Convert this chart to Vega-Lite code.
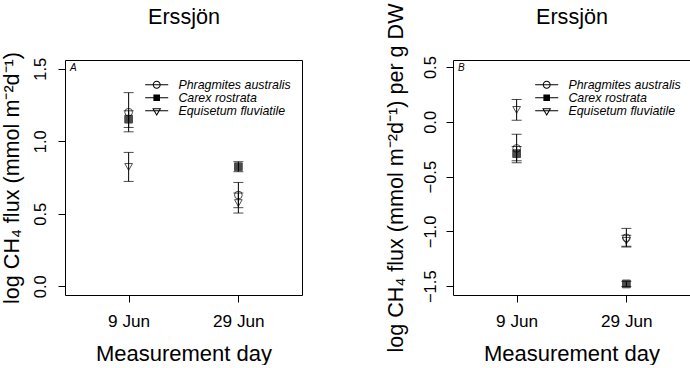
{
  "$schema": "https://vega.github.io/schema/vega-lite/v6.json",
  "background": "white",
  "padding": {"left": 0, "top": 2, "right": 0, "bottom": 0},
  "autosize": {"type": "pad"},
  "config": {
    "font": "Liberation Sans",
    "view": {"stroke": "black", "strokeWidth": 1},
    "axis": {"grid": false, "domain": false, "tickColor": "black", "tickWidth": 1, "labelColor": "black", "titleColor": "black", "titleFontWeight": "normal", "tickSize": 7, "labelFont": "Liberation Sans", "titleFont": "Liberation Sans"},
    "legend": {"title": null, "orient": "none", "padding": 0, "symbolSize": 144, "symbolStrokeWidth": 0, "symbolOpacity": 1, "labelFontSize": 12.4, "labelFontStyle": "italic", "labelOffset": 15.5, "rowPadding": -0.5, "labelLimit": 400, "labelColor": "black", "labelFont": "Liberation Sans"}
  },
  "datasets": {
    "areaFlux": [
      {"species": "Phragmites australis", "day": 9, "mean": 1.2, "lo": 1.065, "hi": 1.335},
      {"species": "Carex rostrata", "day": 9, "mean": 1.152, "lo": 1.095, "hi": 1.21},
      {"species": "Equisetum fluviatile", "day": 9, "mean": 0.823, "lo": 0.723, "hi": 0.923},
      {"species": "Phragmites australis", "day": 29, "mean": 0.629, "lo": 0.542, "hi": 0.716},
      {"species": "Carex rostrata", "day": 29, "mean": 0.824, "lo": 0.79, "hi": 0.859},
      {"species": "Equisetum fluviatile", "day": 29, "mean": 0.574, "lo": 0.505, "hi": 0.643}
    ],
    "massFlux": [
      {"species": "Phragmites australis", "day": 9, "mean": -0.242, "lo": -0.372, "hi": -0.112},
      {"species": "Carex rostrata", "day": 9, "mean": -0.29, "lo": -0.355, "hi": -0.225},
      {"species": "Equisetum fluviatile", "day": 9, "mean": 0.11, "lo": 0.015, "hi": 0.205},
      {"species": "Phragmites australis", "day": 29, "mean": -1.058, "lo": -1.142, "hi": -0.972},
      {"species": "Carex rostrata", "day": 29, "mean": -1.479, "lo": -1.503, "hi": -1.455},
      {"species": "Equisetum fluviatile", "day": 29, "mean": -1.085, "lo": -1.135, "hi": -1.035}
    ]
  },
  "spacing": 151,
  "bounds": "flush",
  "resolve": {"scale": {"shape": "independent", "fill": "independent"}, "legend": {"shape": "independent", "fill": "independent"}},
  "hconcat": [
    {
      "width": 237,
      "height": 235,
      "data": {"name": "areaFlux"},
      "resolve": {"axis": {"x": "independent"}, "scale": {"shape": "independent"}, "legend": {"shape": "independent"}},
      "layer": [
        {
          "mark": {"type": "rule", "color": "black", "strokeWidth": 1},
          "encoding": {
            "x": {"field": "day", "type": "quantitative", "scale": {"domain": [-2.6, 40.6], "nice": false, "zero": false},
              "axis": {"orient": "top", "title": "Erssjön", "labels": false, "ticks": false, "tickSize": 0, "labelPadding": 0, "titleFontSize": 21.6, "titlePadding": 37, "titleBaseline": "alphabetic"}},
            "y": {"field": "lo", "type": "quantitative", "scale": {"domain": [-0.06, 1.56], "nice": false, "zero": false},
              "title": "log CH₄ flux (mmol m⁻²d⁻¹)",
              "axis": {"values": [0, 0.5, 1, 1.5], "format": ".1f", "labelAngle": -90, "labelAlign": "center", "labelBaseline": "alphabetic", "labelPadding": 13, "labelFontSize": 16.5,
                "titleFontSize": 21.6, "titleAngle": -90, "titleAlign": "center", "titleBaseline": "alphabetic", "titleX": -46.5, "titleY": 117.5}},
            "y2": {"field": "hi"}
          }
        },
        {
          "mark": {"type": "tick", "orient": "horizontal", "color": "black", "thickness": 1, "size": 10},
          "encoding": {
            "x": {"field": "day", "type": "quantitative", "axis": null},
            "y": {"field": "lo", "type": "quantitative", "title": "log CH₄ flux (mmol m⁻²d⁻¹)"}
          }
        },
        {
          "mark": {"type": "tick", "orient": "horizontal", "color": "black", "thickness": 1, "size": 10},
          "encoding": {
            "x": {"field": "day", "type": "quantitative", "axis": null},
            "y": {"field": "hi", "type": "quantitative", "title": "log CH₄ flux (mmol m⁻²d⁻¹)"}
          }
        },
        {
          "mark": {"type": "point", "stroke": "black", "strokeWidth": 1, "size": 60},
          "encoding": {
            "x": {"field": "day", "type": "quantitative",
              "axis": {"orient": "bottom", "title": "Measurement day", "values": [9, 29], "labelExpr": "datum.value + ' Jun'", "labelFontSize": 17.2, "labelPadding": 10, "titleFontSize": 22, "titlePadding": 14}},
            "y": {"field": "mean", "type": "quantitative", "title": "log CH₄ flux (mmol m⁻²d⁻¹)"},
            "shape": {"field": "species", "type": "nominal",
              "scale": {"domain": ["Phragmites australis", "Carex rostrata", "Equisetum fluviatile"], "range": ["circle", "square", "triangle-down"]},
              "legend": null},
            "fill": {"field": "species", "type": "nominal",
              "scale": {"domain": ["Phragmites australis", "Carex rostrata", "Equisetum fluviatile"], "range": ["transparent", "black", "transparent"]},
              "legend": null}
          }
        },
        {
          "mark": {"type": "point", "filled": true, "color": "black", "size": 0},
          "encoding": {
            "x": {"field": "day", "type": "quantitative", "axis": null},
            "y": {"field": "mean", "type": "quantitative", "title": "log CH₄ flux (mmol m⁻²d⁻¹)"},
            "shape": {"field": "species", "type": "nominal",
              "scale": {"domain": ["Phragmites australis", "Carex rostrata", "Equisetum fluviatile"],
                "range": [
                  "M-1.92,-0.083H1.92V0.083H-1.92Z M-0.667,0A0.667,0.667,0,1,1,0.667,0A0.667,0.667,0,1,1,-0.667,0Z M-0.5,0A0.5,0.5,0,1,0,0.5,0A0.5,0.5,0,1,0,-0.5,0Z",
                  "M-1.92,-0.083H1.92V0.083H-1.92Z M-0.55,-0.55H0.55V0.55H-0.55Z",
                  "M-1.92,-0.083H1.92V0.083H-1.92Z M-0.75,-0.4L0.75,-0.4L0,0.9Z M-0.462,-0.233L0,0.567L0.462,-0.233Z"
                ]},
              "legend": {"orient": "none", "legendX": 85.5, "legendY": 18.5}}
          }
        },
        {
          "data": {"values": [{"label": "A"}]},
          "mark": {"type": "text", "align": "left", "baseline": "top", "dx": 5, "dy": 3, "fontSize": 10, "fontStyle": "italic", "color": "black"},
          "encoding": {
            "x": {"datum": -2.6, "type": "quantitative", "axis": null},
            "y": {"datum": 1.56, "type": "quantitative", "title": "log CH₄ flux (mmol m⁻²d⁻¹)"},
            "text": {"field": "label"}
          }
        }
      ]
    },
    {
      "width": 237,
      "height": 235,
      "data": {"name": "massFlux"},
      "resolve": {"axis": {"x": "independent"}, "scale": {"shape": "independent"}, "legend": {"shape": "independent"}},
      "layer": [
        {
          "mark": {"type": "rule", "color": "black", "strokeWidth": 1},
          "encoding": {
            "x": {"field": "day", "type": "quantitative", "scale": {"domain": [-2.6, 40.6], "nice": false, "zero": false},
              "axis": {"orient": "top", "title": "Erssjön", "labels": false, "ticks": false, "tickSize": 0, "labelPadding": 0, "titleFontSize": 21.6, "titlePadding": 37, "titleBaseline": "alphabetic"}},
            "y": {"field": "lo", "type": "quantitative", "scale": {"domain": [-1.58, 0.565], "nice": false, "zero": false},
              "title": "log CH₄ flux (mmol m⁻²d⁻¹) per g DW",
              "axis": {"values": [-1.5, -1, -0.5, 0, 0.5], "format": ".1f", "labelAngle": -90, "labelAlign": "center", "labelBaseline": "alphabetic", "labelPadding": 11, "labelFontSize": 16.5,
                "titleFontSize": 21.6, "titleAngle": -90, "titleAlign": "center", "titleBaseline": "alphabetic", "titleX": -50.5, "titleY": 117.5}},
            "y2": {"field": "hi"}
          }
        },
        {
          "mark": {"type": "tick", "orient": "horizontal", "color": "black", "thickness": 1, "size": 10},
          "encoding": {
            "x": {"field": "day", "type": "quantitative", "axis": null},
            "y": {"field": "lo", "type": "quantitative", "title": "log CH₄ flux (mmol m⁻²d⁻¹) per g DW"}
          }
        },
        {
          "mark": {"type": "tick", "orient": "horizontal", "color": "black", "thickness": 1, "size": 10},
          "encoding": {
            "x": {"field": "day", "type": "quantitative", "axis": null},
            "y": {"field": "hi", "type": "quantitative", "title": "log CH₄ flux (mmol m⁻²d⁻¹) per g DW"}
          }
        },
        {
          "mark": {"type": "point", "stroke": "black", "strokeWidth": 1, "size": 60},
          "encoding": {
            "x": {"field": "day", "type": "quantitative",
              "axis": {"orient": "bottom", "title": "Measurement day", "values": [9, 29], "labelExpr": "datum.value + ' Jun'", "labelFontSize": 17.2, "labelPadding": 10, "titleFontSize": 22, "titlePadding": 14}},
            "y": {"field": "mean", "type": "quantitative", "title": "log CH₄ flux (mmol m⁻²d⁻¹) per g DW"},
            "shape": {"field": "species", "type": "nominal",
              "scale": {"domain": ["Phragmites australis", "Carex rostrata", "Equisetum fluviatile"], "range": ["circle", "square", "triangle-down"]},
              "legend": null},
            "fill": {"field": "species", "type": "nominal",
              "scale": {"domain": ["Phragmites australis", "Carex rostrata", "Equisetum fluviatile"], "range": ["transparent", "black", "transparent"]},
              "legend": null}
          }
        },
        {
          "mark": {"type": "point", "filled": true, "color": "black", "size": 0},
          "encoding": {
            "x": {"field": "day", "type": "quantitative", "axis": null},
            "y": {"field": "mean", "type": "quantitative", "title": "log CH₄ flux (mmol m⁻²d⁻¹) per g DW"},
            "shape": {"field": "species", "type": "nominal",
              "scale": {"domain": ["Phragmites australis", "Carex rostrata", "Equisetum fluviatile"],
                "range": [
                  "M-1.92,-0.083H1.92V0.083H-1.92Z M-0.667,0A0.667,0.667,0,1,1,0.667,0A0.667,0.667,0,1,1,-0.667,0Z M-0.5,0A0.5,0.5,0,1,0,0.5,0A0.5,0.5,0,1,0,-0.5,0Z",
                  "M-1.92,-0.083H1.92V0.083H-1.92Z M-0.55,-0.55H0.55V0.55H-0.55Z",
                  "M-1.92,-0.083H1.92V0.083H-1.92Z M-0.75,-0.4L0.75,-0.4L0,0.9Z M-0.462,-0.233L0,0.567L0.462,-0.233Z"
                ]},
              "legend": {"orient": "none", "legendX": 87.5, "legendY": 18.5}}
          }
        },
        {
          "data": {"values": [{"label": "B"}]},
          "mark": {"type": "text", "align": "left", "baseline": "top", "dx": 5, "dy": 3, "fontSize": 10, "fontStyle": "italic", "color": "black"},
          "encoding": {
            "x": {"datum": -2.6, "type": "quantitative", "axis": null},
            "y": {"datum": 0.565, "type": "quantitative", "title": "log CH₄ flux (mmol m⁻²d⁻¹) per g DW"},
            "text": {"field": "label"}
          }
        }
      ]
    }
  ]
}
